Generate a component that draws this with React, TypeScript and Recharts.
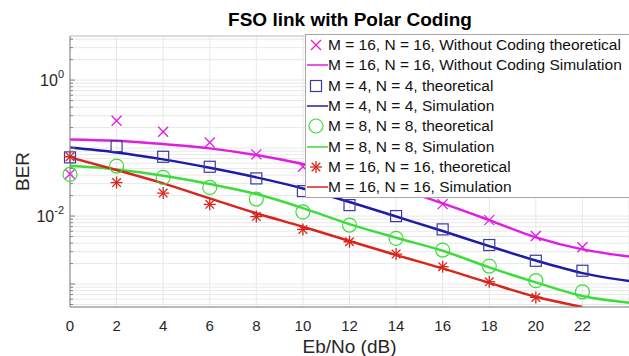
import React from "react";
import {
  LineChart,
  Line,
  XAxis,
  YAxis,
  CartesianGrid,
  ReferenceLine,
} from "recharts";

// Eb/No in dB (x positions)
const ebNo = [0, 2, 4, 6, 8, 10, 12, 14, 16, 18, 20, 22, 24];

// BER values
const noCodingTheory = [0.0415, 0.252, 0.174, 0.121, 0.0807, 0.0531, 0.0364, 0.0234, 0.015, 0.00873, 0.00508, 0.00347, null];
const noCodingSim = [0.134, 0.128, 0.1145, 0.099, 0.0789, 0.0582, 0.04, 0.0258, 0.0154, 0.00873, 0.00486, 0.00324, 0.00255];
const m4Theory = [0.073, 0.107, 0.0745, 0.0531, 0.0358, 0.0233, 0.0145, 0.01, 0.00637, 0.00375, 0.0022, 0.00157, null];
const m4Sim = [0.102, 0.0864, 0.0682, 0.0513, 0.0371, 0.0255, 0.0161, 0.00984, 0.00602, 0.00362, 0.00222, 0.00145, 0.00111];
const m8Theory = [0.041, 0.0544, 0.0371, 0.0264, 0.0178, 0.0115, 0.00738, 0.0047, 0.00316, 0.00184, 0.00112, 0.00077, null];
const m8Sim = [0.0549, 0.0486, 0.0392, 0.0296, 0.0211, 0.0131, 0.00762, 0.0048, 0.00309, 0.00176, 0.00106, 0.000667, 0.000531];
const m16Theory = [0.0745, 0.0311, 0.0218, 0.0149, 0.00984, 0.00637, 0.00419, 0.00276, 0.0018, 0.00108, 0.000637, null, null];
const m16Sim = [0.073, 0.0475, 0.0303, 0.0182, 0.011, 0.00696, 0.00429, 0.00267, 0.0017, 0.00104, 0.00065, 0.00046, null];

// axis ticks
const xTicks = [0, 2, 4, 6, 8, 10, 12, 14, 16, 18, 20, 22];
const yMajorTicks = [0.001, 0.01, 0.1, 1];
const yMinorTicks = [
  0.0005, 0.0006, 0.0007, 0.0008, 0.0009,
  0.002, 0.003, 0.004, 0.005, 0.006, 0.007, 0.008, 0.009,
  0.02, 0.03, 0.04, 0.05, 0.06, 0.07, 0.08, 0.09,
  0.2, 0.3, 0.4, 0.5, 0.6, 0.7, 0.8, 0.9,
  2, 3, 4,
];
const yLabelTicks = [1, 0.01];
const yLabelExps = ["0", "-2"];
const yDomain = [0.00046, 4.45];

const legendLabels = [
  "M = 16, N = 16, Without Coding theoretical",
  "M = 16, N = 16, Without Coding Simulation",
  "M = 4, N = 4, theoretical",
  "M = 4, N = 4, Simulation",
  "M = 8, N = 8, theoretical",
  "M = 8, N = 8, Simulation",
  "M = 16, N = 16, theoretical",
  "M = 16, N = 16, Simulation",
];

const MAGENTA = "#e01ee0";
const BLUE = "#1c1ca6";
const SQUARE = "#3b3b9e";
const GREEN = "#3ddc3d";
const RED = "#d8261e";
const FONT = '"Liberation Sans", Arial, sans-serif';

const data = ebNo.map((x, i) => ({
  ebNo: x,
  noCodingTheory: noCodingTheory[i],
  noCodingSim: noCodingSim[i],
  m4Theory: m4Theory[i],
  m4Sim: m4Sim[i],
  m8Theory: m8Theory[i],
  m8Sim: m8Sim[i],
  m16Theory: m16Theory[i],
  m16Sim: m16Sim[i],
}));

// marker shapes
const markX = (cx: number, cy: number, color: string, k?: any) => (
  <g key={k} stroke={color} strokeWidth={1.3}>
    <line x1={cx - 5} y1={cy - 5} x2={cx + 5} y2={cy + 5} />
    <line x1={cx - 5} y1={cy + 5} x2={cx + 5} y2={cy - 5} />
  </g>
);
const markSquare = (cx: number, cy: number, color: string, k?: any) => (
  <rect key={k} x={cx - 5.5} y={cy - 5.5} width={11} height={11} fill="none" stroke={color} strokeWidth={1.2} />
);
const markCircle = (cx: number, cy: number, color: string, k?: any) => (
  <circle key={k} cx={cx} cy={cy} r={7} fill="none" stroke={color} strokeWidth={1.2} />
);
const markStar = (cx: number, cy: number, color: string, k?: any) => (
  <g key={k} stroke={color} strokeWidth={1.3}>
    <line x1={cx - 6} y1={cy} x2={cx + 6} y2={cy} />
    <line x1={cx} y1={cy - 6} x2={cx} y2={cy + 6} />
    <line x1={cx - 4.3} y1={cy - 4.3} x2={cx + 4.3} y2={cy + 4.3} />
    <line x1={cx - 4.3} y1={cy + 4.3} x2={cx + 4.3} y2={cy - 4.3} />
  </g>
);

const dotWith = (shape: typeof markX, color: string) => (p: any) => {
  if (p.value == null || p.cy == null || isNaN(p.cy)) return <g key={p.index} />;
  return shape(p.cx, p.cy, color, p.index);
};

const YTick = (props: any) => {
  const { x, y, payload } = props;
  const v = payload.value;
  const major = yMajorTicks.includes(v);
  const idx = yLabelTicks.indexOf(v);
  return (
    <g>
      <line x1={x + 6} x2={x + 6 + (major ? 5 : 3)} y1={y} y2={y} stroke="#808080" />
      {idx >= 0 && (
        <text x={x} y={y} dy={6} textAnchor="end" fill="#262626" fontSize={16} fontFamily={FONT}>
          10
          <tspan dy={-8} fontSize={11}>
            {yLabelExps[idx]}
          </tspan>
        </text>
      )}
    </g>
  );
};

const legendShapes: any[] = [
  { kind: "marker", shape: markX, color: MAGENTA },
  { kind: "line", color: MAGENTA },
  { kind: "marker", shape: markSquare, color: SQUARE },
  { kind: "line", color: BLUE },
  { kind: "marker", shape: markCircle, color: GREEN },
  { kind: "line", color: GREEN },
  { kind: "marker", shape: markStar, color: RED },
  { kind: "line", color: RED },
];

const LegendBox = () => (
  <div
    style={{
      position: "absolute",
      left: 305,
      top: 34,
      width: 340,
      border: "1px solid #a8a8a8",
      background: "#fff",
      fontFamily: FONT,
    }}
  >
    {legendLabels.map((label, i) => {
      const s = legendShapes[i];
      return (
        <div key={label} style={{ display: "flex", alignItems: "center", height: 20.3 }}>
          <svg width={22} height={20} style={{ flex: "none" }}>
            {s.kind === "line" ? (
              <line x1={1} x2={22} y1={10} y2={10} stroke={s.color} strokeWidth={1.5} />
            ) : (
              s.shape(10, 10, s.color)
            )}
          </svg>
          <span style={{ fontSize: 15.5, color: "#111", whiteSpace: "nowrap" }}>{label}</span>
        </div>
      );
    })}
  </div>
);

export default function App() {
  return (
    <div
      style={{
        position: "absolute",
        left: 0,
        top: 0,
        width: 629,
        height: 356,
        overflow: "hidden",
        background: "#fff",
        fontFamily: FONT,
      }}
    >
      <div
        style={{
          position: "absolute",
          left: 70,
          width: 560,
          top: 9,
          textAlign: "center",
          fontWeight: "bold",
          fontSize: 19,
          lineHeight: "22px",
          color: "#000",
        }}
      >
        FSO link with Polar Coding
      </div>
      <LineChart width={629} height={356} data={data} margin={{ top: 36, right: 0, bottom: 0, left: 0 }}>
        <CartesianGrid stroke="#e8e8e8" />
        <XAxis
          dataKey="ebNo"
          type="number"
          domain={[0, 24]}
          ticks={xTicks}
          interval={0}
          height={49}
          stroke="#808080"
          tickLine={false}
          tickSize={0}
          tickMargin={13}
          tick={{ fill: "#262626", fontSize: 15, fontFamily: FONT }}
          label={{ value: "Eb/No (dB)", position: "insideBottom", offset: 3, fill: "#262626", fontSize: 19, fontFamily: FONT }}
        />
        <YAxis
          type="number"
          scale="log"
          domain={yDomain}
          allowDataOverflow
          ticks={[...yMajorTicks, ...yMinorTicks]}
          interval={0}
          width={70}
          stroke="#808080"
          tickLine={false}
          tickSize={0}
          tickMargin={6}
          tick={<YTick />}
          label={{
            content: (p: any) => {
              const vb = p.viewBox;
              const cx = vb.x + 22;
              const cy = vb.y + vb.height / 2;
              return (
                <text
                  x={cx}
                  y={cy}
                  transform={`rotate(-90, ${cx}, ${cy})`}
                  textAnchor="middle"
                  dominantBaseline="central"
                  fontSize={19}
                  fill="#262626"
                  fontFamily={FONT}
                >
                  BER
                </text>
              );
            },
          }}
        />
        <ReferenceLine y={yDomain[1]} stroke="#c4c4c4" />
        <Line dataKey="noCodingTheory" stroke="none" dot={dotWith(markX, MAGENTA)} activeDot={false} isAnimationActive={false} />
        <Line dataKey="noCodingSim" type="monotone" stroke={MAGENTA} strokeWidth={2.5} dot={false} activeDot={false} isAnimationActive={false} />
        <Line dataKey="m4Theory" stroke="none" dot={dotWith(markSquare, SQUARE)} activeDot={false} isAnimationActive={false} />
        <Line dataKey="m4Sim" type="monotone" stroke={BLUE} strokeWidth={2.5} dot={false} activeDot={false} isAnimationActive={false} />
        <Line dataKey="m8Theory" stroke="none" dot={dotWith(markCircle, GREEN)} activeDot={false} isAnimationActive={false} />
        <Line dataKey="m8Sim" type="monotone" stroke={GREEN} strokeWidth={2.5} dot={false} activeDot={false} isAnimationActive={false} />
        <Line dataKey="m16Theory" stroke="none" dot={dotWith(markStar, RED)} activeDot={false} isAnimationActive={false} />
        <Line dataKey="m16Sim" type="monotone" stroke={RED} strokeWidth={2.5} dot={false} activeDot={false} isAnimationActive={false} />
      </LineChart>
      <LegendBox />
    </div>
  );
}
